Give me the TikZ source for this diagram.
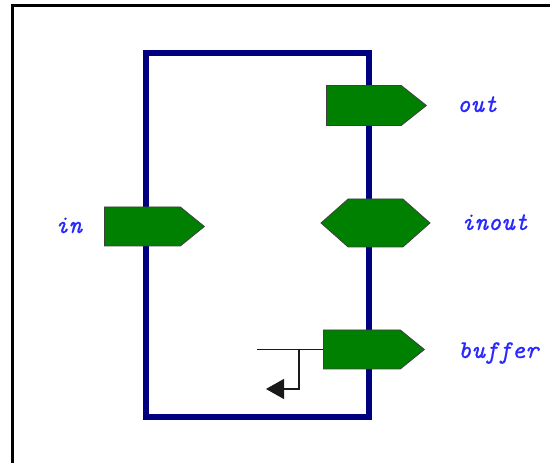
\documentclass[tikz,border=0pt]{standalone}
\usepackage{fontspec}
\newfontfamily\labfont{Latin Modern Mono}[FakeBold=0.5]
\usetikzlibrary{shapes.symbols,arrows.meta}
\definecolor{portgreen}{RGB}{0,128,0}
\definecolor{boxblue}{RGB}{0,0,128}
\definecolor{labblue}{RGB}{40,40,255}
\tikzset{
  port/.style={shape=signal, draw=black!75, line width=0.8pt, fill=portgreen, inner sep=0pt, anchor=west},
  lab/.style={anchor=base west, inner sep=0pt, text=labblue, font=\labfont\itshape\fontsize{25.5}{30}\selectfont},
  fb/.style={draw=black!90, line width=1.2pt}
}
\begin{document}
\begin{tikzpicture}[x=1pt,y=1pt]
\useasboundingbox (0,0) rectangle (550,463);
\fill[white] (0,0) rectangle (550,463);
% outer frame
\draw[line width=3pt, black] (12,-5) -- (12,457.5) -- (555,457.5);
% entity box
\draw[boxblue, line width=6pt] (146,46) rectangle (369,410);
% ports
\node[port, signal to=east, signal pointer angle=77, minimum width=100pt, minimum height=40pt] (out) at (326,357.5) {};
\node[port, signal to=east, signal pointer angle=78, minimum width=100pt, minimum height=39pt] (in) at (104,236.5) {};
\node[port, signal to=east and west, signal pointer angle=83, minimum width=109pt, minimum height=48pt, anchor=center] (inout) at (375.5,240) {};
\node[port, signal to=east, signal pointer angle=78, minimum width=101pt, minimum height=39pt] (buffer) at (323,113.5) {};
% labels
\node[lab] (lout) at (457,351) {out};
\node[lab] (lin) at (55,230) {in};
\node[lab] (linout) at (461,233) {inout};
\node[lab] (lbuffer) at (458,105) {buffer};
% feedback
\coordinate (fbstart) at (257,113.5);
\coordinate (fbknee) at (299,113.5);
\coordinate (fbend) at (266,74);
\draw[fb] (fbstart) -- (buffer.west);
\draw[fb, -{Triangle[length=18pt,width=20pt]}] (fbknee) |- (fbend);
\end{tikzpicture}
\end{document}
